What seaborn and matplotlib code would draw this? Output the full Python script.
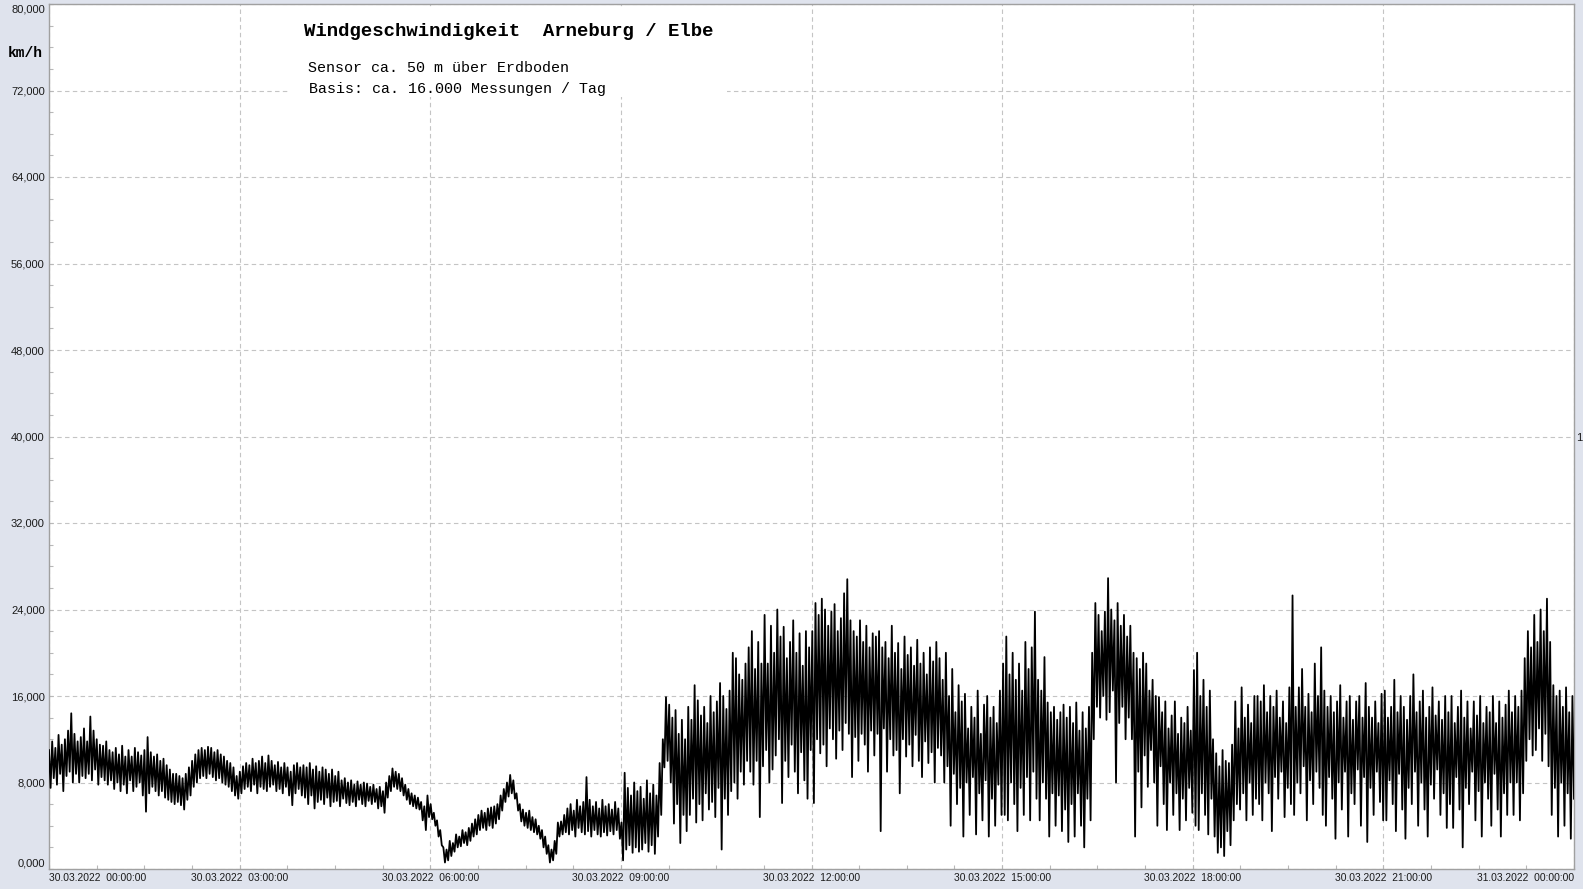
import numpy as np
import pandas as pd
import matplotlib
matplotlib.use('Agg')
import matplotlib.pyplot as plt
import seaborn as sns
from matplotlib.patches import Rectangle
from matplotlib.ticker import MultipleLocator

speed_00_06 = [
    11.0, 7.5, 11.8, 8.4, 11.2, 7.8, 12.4, 8.8, 11.5, 7.2, 12.0, 8.6, 12.8, 9.0, 14.4, 8.0, 12.5, 8.8, 11.8, 8.0,
    12.2, 8.6, 13.0, 8.4, 11.8, 8.8, 14.1, 8.2, 12.8, 9.2, 12.0, 7.8, 11.5, 8.5, 11.4, 8.2, 11.8, 7.8, 11.0, 8.2,
    10.8, 7.4, 11.2, 8.0, 10.6, 7.2, 11.4, 7.8, 10.4, 7.0, 11.0, 8.2, 10.4, 7.2, 11.2, 7.6, 10.8, 8.0, 10.5, 6.8,
    11.0, 5.3, 12.2, 7.0, 10.8, 7.6, 10.4, 7.2, 10.6, 6.8, 10.0, 7.2, 10.2, 6.6, 9.6, 6.4, 9.2, 6.2, 8.8, 6.0,
    8.8, 6.2, 8.6, 5.9, 8.4, 5.5, 8.8, 6.4, 9.4, 6.8, 10.0, 7.6, 10.6, 8.0, 11.0, 8.4, 11.2, 8.6, 11.0, 8.4,
    11.3, 8.8, 11.2, 8.5, 10.8, 8.2, 11.0, 8.4, 10.6, 8.0, 10.4, 7.8, 10.0, 7.6, 9.8, 7.2, 9.4, 6.8, 8.6, 6.5,
    9.0, 7.0, 9.5, 7.4, 9.8, 7.6, 9.6, 7.2, 10.2, 7.8, 9.8, 7.0, 10.0, 7.6, 10.4, 7.4, 9.8, 7.2, 10.5, 7.6,
    10.0, 7.8, 9.6, 7.2, 9.9, 7.4, 9.4, 7.0, 9.8, 7.6, 9.4, 6.8, 9.0, 5.9, 9.6, 7.0, 9.8, 7.4, 9.4, 6.8,
    9.6, 6.6, 9.4, 6.0, 9.8, 6.8, 9.2, 5.6, 9.5, 6.2, 9.0, 6.4, 9.4, 6.0, 9.2, 6.6, 8.8, 5.8, 9.2, 6.2,
    8.6, 6.3, 9.0, 5.8, 8.2, 6.5, 8.4, 6.1, 8.0, 5.9, 8.2, 6.2, 7.8, 5.8, 8.1, 6.4, 7.8, 6.0, 8.0, 5.8,
    7.9, 6.3, 7.6, 6.0, 7.8, 6.2, 7.4, 5.6, 7.6, 5.8, 7.2, 5.2, 8.0, 6.6, 8.6, 7.2, 9.3, 7.6, 9.0, 7.4,
    8.8, 7.2, 8.4, 6.8, 7.8, 6.4, 7.4, 6.0, 7.0, 5.8, 6.8, 5.6, 6.6, 5.5, 6.2, 4.5, 5.8, 3.6, 6.8, 4.8,
]
speed_06_12 = [
    6.0, 4.6, 5.2, 4.0, 4.5, 3.0, 3.6, 2.2, 2.0, 0.6, 1.8, 0.8, 2.6, 1.2, 2.4, 1.6, 3.2, 2.0, 3.0, 2.1,
    3.6, 2.4, 3.4, 2.2, 3.8, 2.6, 4.2, 3.0, 4.6, 3.2, 5.0, 3.6, 5.4, 3.8, 5.2, 3.6, 5.6, 4.0, 5.7, 3.8,
    5.8, 4.2, 6.0, 4.6, 6.8, 5.4, 7.4, 6.2, 8.0, 6.7, 8.7, 7.0, 8.2, 6.5, 7.0, 5.4, 6.0, 4.4, 5.5, 4.0,
    5.2, 3.8, 5.4, 3.6, 4.8, 3.4, 4.6, 3.2, 4.0, 2.8, 3.6, 2.0, 3.0, 1.4, 2.2, 0.6, 1.8, 0.8, 2.6, 1.4,
    4.3, 3.0, 4.4, 3.2, 5.0, 3.4, 5.6, 3.2, 6.0, 3.6, 5.4, 3.0, 6.4, 3.8, 5.8, 3.4, 6.2, 3.2, 8.5, 3.5,
    6.4, 3.0, 5.8, 3.6, 6.2, 3.2, 5.6, 3.0, 6.4, 3.4, 5.8, 3.1, 6.0, 3.5, 5.5, 3.2, 6.2, 3.6, 5.6, 2.8,
    4.3, 0.8, 8.9, 1.8, 7.5, 2.2, 6.8, 1.5, 8.0, 2.0, 7.2, 1.6, 7.6, 1.8, 6.5, 2.4, 8.2, 1.6, 7.0, 2.2,
    7.8, 1.4, 6.8, 3.0, 9.8, 5.0, 12.0, 9.4, 15.9, 10.0, 15.2, 8.0, 14.0, 4.2, 14.7, 6.0, 12.5, 2.4, 13.8, 5.0,
    12.0, 3.5, 15.0, 5.0, 13.8, 6.5, 17.0, 4.3, 15.6, 6.0, 14.2, 4.5, 15.0, 7.0, 13.5, 5.5, 16.0, 6.2, 14.5, 4.8,
    15.5, 7.5, 17.2, 1.8, 16.0, 6.5, 14.8, 5.0, 16.5, 7.2, 20.0, 8.0, 19.5, 6.5, 18.0, 9.0, 17.5, 7.8, 19.0, 10.0,
    20.5, 9.0, 22.0, 7.8, 18.5, 10.0, 21.0, 4.8, 19.0, 9.5, 23.5, 11.0, 19.0, 8.0, 22.5, 9.2, 20.0, 10.5, 24.0, 12.0,
    21.5, 6.1, 22.4, 10.0, 19.5, 8.5, 21.0, 11.5, 23.0, 9.0, 20.0, 7.0, 21.8, 10.8, 18.8, 8.2, 22.0, 6.5, 20.5, 11.0,
]
speed_12_18 = [
    22.0, 6.1, 24.6, 12.0, 23.5, 10.7, 25.0, 11.5, 24.0, 9.5, 22.5, 13.0, 23.8, 12.0, 24.5, 10.2, 22.0, 12.8, 23.2, 11.0,
    25.5, 13.5, 26.8, 12.5, 23.0, 8.5, 22.0, 12.2, 21.5, 10.0, 23.0, 12.5, 21.0, 11.5, 22.5, 9.0, 20.5, 12.8, 21.8, 10.5,
    21.5, 12.5, 22.0, 3.5, 20.5, 13.0, 21.0, 9.0, 19.5, 12.0, 22.5, 10.5, 20.0, 11.0, 20.9, 7.0, 18.5, 12.0, 21.5, 10.4,
    19.8, 11.5, 20.5, 9.5, 18.8, 12.4, 21.2, 10.0, 19.0, 8.5, 20.0, 11.8, 18.0, 9.8, 20.5, 10.8, 19.2, 8.0, 21.0, 11.2,
    19.5, 10.5, 17.5, 8.0, 20.0, 9.5, 16.0, 4.0, 18.5, 8.8, 14.5, 6.0, 17.0, 7.5, 15.5, 3.0, 16.2, 8.0, 13.0, 5.0,
    15.0, 8.5, 14.0, 3.2, 16.5, 7.0, 12.5, 4.5, 15.2, 8.2, 16.0, 3.0, 14.0, 6.5, 15.0, 4.0, 13.5, 7.8, 16.5, 5.0,
    19.0, 5.0, 21.5, 4.5, 18.0, 8.0, 20.0, 6.0, 17.5, 3.5, 19.0, 7.5, 16.5, 5.0, 21.0, 8.5, 18.5, 4.5, 20.5, 9.0,
    23.8, 6.5, 17.5, 4.5, 16.5, 8.0, 19.6, 6.5, 15.4, 3.0, 14.5, 7.0, 15.0, 4.0, 13.8, 6.8, 14.5, 3.5, 15.2, 5.5,
    14.0, 2.5, 15.0, 6.0, 13.5, 3.0, 15.4, 7.0, 12.8, 4.0, 14.5, 2.0, 13.0, 6.5, 15.0, 4.5, 20.0, 12.0, 24.6, 15.0,
    23.5, 14.0, 22.0, 16.0, 23.8, 13.8, 26.9, 14.5, 24.0, 16.5, 23.0, 8.0, 24.6, 13.5, 22.5, 15.0, 23.5, 12.0, 21.5, 14.0,
    22.5, 12.0, 20.0, 3.0, 19.5, 9.0, 18.5, 5.7, 20.0, 10.5, 19.0, 7.6, 16.5, 11.0, 17.5, 8.0, 16.0, 4.0, 15.9, 9.5,
    14.5, 6.0, 15.5, 3.6, 13.0, 8.0, 14.2, 5.0, 15.5, 7.0, 12.5, 3.6, 14.0, 6.5, 13.5, 4.5, 15.0, 7.5, 12.8, 5.2,
]
speed_18_24 = [
    18.4, 4.0, 20.0, 3.6, 16.0, 7.0, 17.5, 5.0, 15.0, 3.2, 16.5, 6.5, 12.0, 3.0, 10.7, 1.5, 9.5, 2.0, 11.0, 1.2,
    10.0, 3.5, 9.8, 2.2, 11.5, 4.5, 15.5, 6.0, 13.0, 5.5, 16.8, 7.0, 14.0, 4.5, 15.2, 8.0, 13.5, 5.0, 16.0, 6.5,
    16.0, 6.0, 15.5, 4.5, 17.0, 8.0, 14.5, 7.0, 16.0, 3.5, 15.0, 8.5, 16.5, 6.5, 14.0, 9.0, 15.5, 4.8, 13.5, 7.5,
    16.8, 6.0, 25.3, 5.0, 15.0, 8.0, 16.8, 7.0, 18.5, 9.5, 15.0, 4.5, 16.2, 8.2, 14.5, 6.0, 19.0, 9.0, 16.0, 7.5,
    20.5, 5.0, 16.5, 4.0, 15.0, 8.5, 16.0, 6.5, 14.5, 2.8, 15.5, 8.0, 17.0, 5.5, 14.0, 9.0, 15.5, 3.0, 16.0, 7.0,
    13.8, 6.0, 15.5, 9.2, 16.0, 4.0, 14.0, 8.5, 17.2, 2.5, 15.0, 7.5, 14.0, 5.0, 15.5, 9.0, 13.5, 6.2, 16.2, 4.5,
    16.5, 4.5, 14.0, 8.2, 15.0, 6.0, 17.5, 3.5, 14.5, 8.8, 16.0, 5.5, 15.0, 2.8, 13.8, 7.5, 16.0, 6.0, 18.0, 9.0,
    14.5, 4.0, 15.5, 8.0, 16.5, 5.5, 14.0, 3.0, 15.0, 7.8, 16.8, 6.5, 14.2, 9.2, 15.5, 5.0, 13.8, 7.0, 16.0, 3.8,
    14.5, 6.0, 16.0, 3.8, 13.5, 8.5, 15.0, 5.5, 16.5, 2.0, 14.0, 7.5, 15.5, 6.0, 13.0, 9.0, 15.5, 4.5, 14.2, 7.2,
    16.0, 3.0, 13.5, 8.0, 15.0, 6.5, 14.5, 4.0, 16.0, 8.8, 13.5, 5.5, 15.5, 3.0, 14.0, 7.0, 15.2, 5.0, 16.5, 8.0,
    14.5, 5.0, 16.0, 8.0, 15.0, 4.5, 16.5, 7.0, 19.5, 10.0, 22.0, 12.0, 20.5, 10.5, 23.5, 11.0, 21.0, 13.0, 24.0, 10.0,
    22.0, 12.5, 25.0, 9.5, 21.0, 5.0, 17.0, 7.5, 16.0, 3.0, 16.5, 8.0, 15.0, 4.0, 16.8, 7.0, 14.5, 2.8, 16.0, 6.5,
]

x_ticks = [0, 3, 6, 9, 12, 15, 18, 21, 24]
x_labels = ['30.03.2022  00:00:00', '30.03.2022  03:00:00', '30.03.2022  06:00:00',
            '30.03.2022  09:00:00', '30.03.2022  12:00:00', '30.03.2022  15:00:00',
            '30.03.2022  18:00:00', '30.03.2022  21:00:00', '31.03.2022  00:00:00']
y_ticks = [0, 8, 16, 24, 32, 40, 48, 56, 64, 72, 80]

speed = speed_00_06 + speed_06_12 + speed_12_18 + speed_18_24
df = pd.DataFrame({'Stunde': np.linspace(0, 24, len(speed)), 'kmh': speed})

bg = '#dfe3ed'
fig = plt.figure(figsize=(15.83, 8.89), dpi=100, facecolor=bg)
ax = fig.add_axes([49 / 1583, 20 / 889, 1525 / 1583, 865 / 889])
ax.set_facecolor('white')
ax.set_axisbelow(True)

sns.lineplot(data=df, x='Stunde', y='kmh', color='black', linewidth=1.3,
             estimator=None, ax=ax, zorder=3)

ax.set_xlim(0, 24)
ax.set_ylim(0, 80)
ax.set_xlabel('')
ax.set_ylabel('')

ax.set_xticks(x_ticks)
ax.set_xticklabels(x_labels, fontsize=7.4, color='#1a1a1a', family='Liberation Sans')
ax.xaxis.set_minor_locator(MultipleLocator(0.75))
ax.set_yticks(y_ticks)
ax.set_yticklabels([f'{v:.3f}'.replace('.', ',') for v in y_ticks],
                   fontsize=8, color='#1a1a1a', family='Liberation Sans')
ax.yaxis.set_minor_locator(MultipleLocator(2))

ax.tick_params(axis='both', which='both', direction='in', length=3,
               color='#b8b8b8', width=0.8)
ax.tick_params(axis='x', which='major', pad=3)
ax.tick_params(axis='y', which='major', pad=3)

xl = ax.get_xticklabels()
xl[0].set_ha('left')
xl[-1].set_ha('right')
yl = ax.get_yticklabels()
yl[0].set_va('bottom')
yl[-1].set_va('top')

ax.grid(True, which='major', color='#c4c4c4', linestyle=(0, (4, 3)), linewidth=0.8)
for s in ax.spines.values():
    s.set_color('#a0a0a0')
    s.set_linewidth(1.0)

# weisser Kasten hinter der Beschriftung
ax.add_patch(Rectangle((241 / 1525, 772 / 865), 437 / 1525, 89 / 865,
                       transform=ax.transAxes, facecolor='white', edgecolor='none', zorder=1))

fig.text(304 / 1583, 1 - 31 / 889, 'Windgeschwindigkeit  Arneburg / Elbe',
         family='Liberation Mono', fontweight='bold', fontsize=13.7, va='center', ha='left')
fig.text(308 / 1583, 1 - 68 / 889, 'Sensor ca. 50 m über Erdboden',
         family='Liberation Mono', fontsize=10.8, va='center', ha='left')
fig.text(309 / 1583, 1 - 89 / 889, 'Basis: ca. 16.000 Messungen / Tag',
         family='Liberation Mono', fontsize=10.8, va='center', ha='left')
fig.text(25 / 1583, 1 - 53 / 889, 'km/h', family='Liberation Mono', fontweight='bold',
         fontsize=10.5, va='center', ha='center')
fig.text(1576 / 1583, 1 - 438 / 889, '1', family='Liberation Sans', fontsize=8,
         va='center', ha='left', color='#1a1a1a')

fig.savefig('out.png', dpi=100, facecolor=bg)
